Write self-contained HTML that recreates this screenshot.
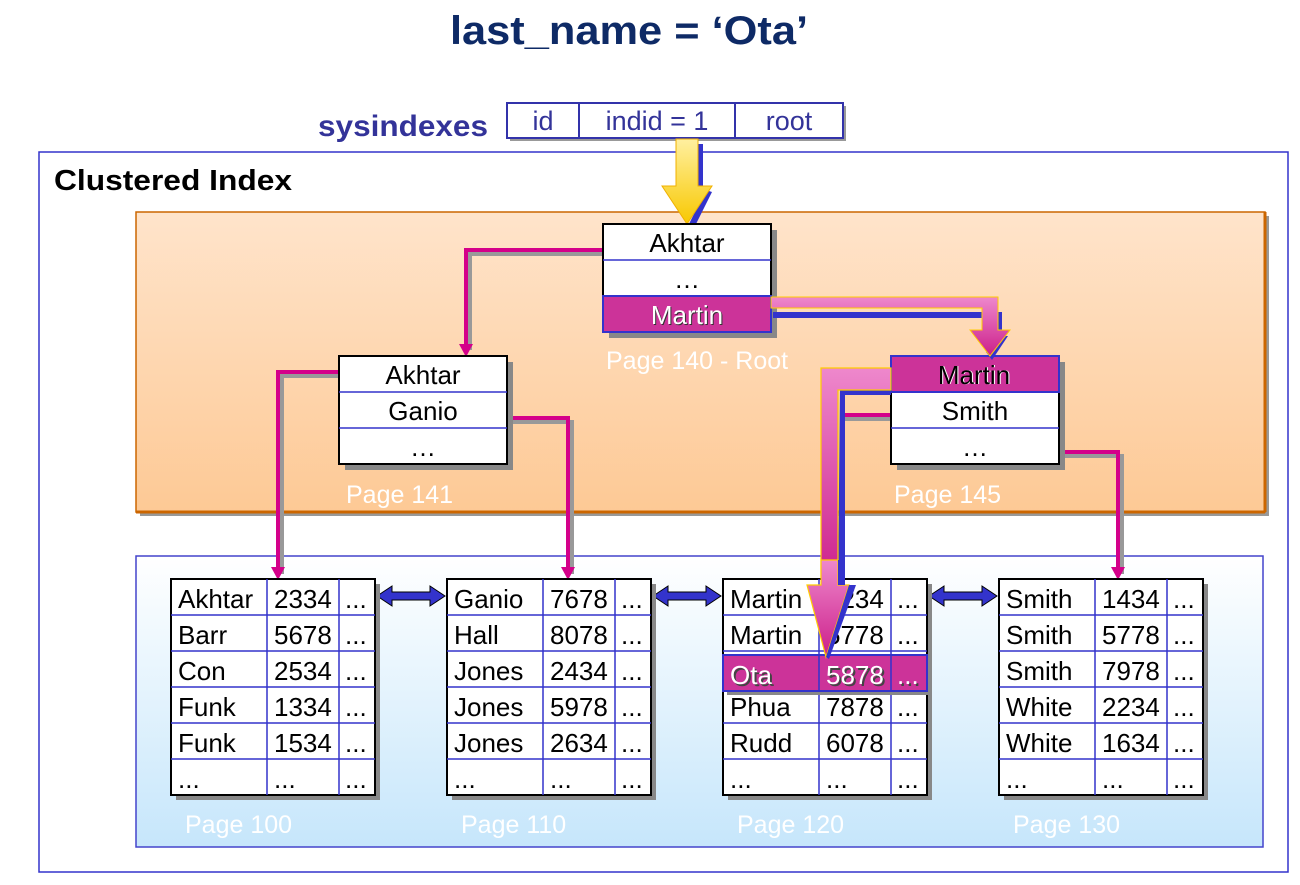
<!DOCTYPE html>
<html><head><meta charset="utf-8"><style>body{margin:0;background:#fff}svg{display:block}text{font-family:"Liberation Sans",Arial,sans-serif}</style></head><body>
<svg width="1300" height="885" viewBox="0 0 1300 885" xmlns="http://www.w3.org/2000/svg">
<defs>
<linearGradient id="og" x1="0" y1="0" x2="0" y2="1"><stop offset="0" stop-color="#ffe4cb"/><stop offset="1" stop-color="#fdc995"/></linearGradient>
<linearGradient id="bg" x1="0" y1="0" x2="0" y2="1"><stop offset="0" stop-color="#ffffff"/><stop offset="1" stop-color="#c6e6fb"/></linearGradient>
<linearGradient id="yg" x1="0" y1="0" x2="0" y2="1"><stop offset="0" stop-color="#fff0a0"/><stop offset="1" stop-color="#f8c800"/></linearGradient>
<linearGradient id="pg" x1="0" y1="0" x2="0" y2="1"><stop offset="0" stop-color="#ee88cc"/><stop offset="1" stop-color="#cc1f8a"/></linearGradient>
</defs>
<text x="629" y="44" text-anchor="middle" font-size="40" font-weight="bold" fill="#0e2a66" textLength="358" lengthAdjust="spacingAndGlyphs">last_name = ‘Ota’</text>
<text x="318" y="136" font-size="30" font-weight="bold" fill="#333399" textLength="170" lengthAdjust="spacingAndGlyphs">sysindexes</text>
<rect x="510" y="106" width="336" height="35" fill="#999"/>
<rect x="507" y="103" width="336" height="35" fill="#fff" stroke="#3333aa" stroke-width="2"/>
<line x1="579" y1="103" x2="579" y2="138" stroke="#3333aa" stroke-width="2"/>
<line x1="735" y1="103" x2="735" y2="138" stroke="#3333aa" stroke-width="2"/>
<g font-size="27" fill="#333399" text-anchor="middle"><text x="543" y="130">id</text><text x="657" y="130">indid = 1</text><text x="789" y="130">root</text></g>
<rect x="39" y="152" width="1249" height="720" fill="none" stroke="#3333cc" stroke-width="1.5"/>
<text x="54" y="190" font-size="29" font-weight="bold" fill="#000" textLength="238" lengthAdjust="spacingAndGlyphs">Clustered Index</text>
<rect x="140" y="216" width="1129" height="300" fill="#999"/>
<rect x="136" y="212" width="1129" height="300" fill="url(#og)" stroke="#cc6600" stroke-width="1.5"/>
<line x1="1265" y1="212" x2="1265" y2="512" stroke="#cc6600" stroke-width="3"/><line x1="136" y1="512" x2="1265" y2="512" stroke="#cc6600" stroke-width="3"/>
<rect x="136" y="556" width="1127" height="291" fill="url(#bg)" stroke="#4444cc" stroke-width="1.5"/>
<rect x="698" y="144" width="5" height="50" fill="#3333cc"/><polygon points="712,192 694,228 688,226 706,190" fill="#3333cc"/>
<polygon points="676,139 698,139 698,186 712,186 687,224 662,186 676,186" fill="url(#yg)" stroke="#f0b000" stroke-width="1"/>
<g fill="none" stroke-width="4">
<polyline points="603,254 470,254 470,350" stroke="#999"/>
<polyline points="603,250 466,250 466,346" stroke="#d4008a"/>
<polyline points="339,376 282,376 282,574" stroke="#999"/>
<polyline points="339,372 278,372 278,570" stroke="#d4008a"/>
<polyline points="507,422 572,422 572,574" stroke="#999"/>
<polyline points="507,418 568,418 568,570" stroke="#d4008a"/>
<polyline points="891,419 840,419" stroke="#999"/>
<polyline points="891,415 840,415" stroke="#d4008a"/>
<polyline points="1059,456 1122,456 1122,574" stroke="#999"/>
<polyline points="1059,452 1118,452 1118,570" stroke="#d4008a"/>
</g>
<g fill="#d4008a"><polygon points="459,344 473,344 466,357"/><polygon points="271,567 285,567 278,580"/><polygon points="561,567 575,567 568,580"/><polygon points="1111,567 1125,567 1118,580"/></g>
<g>
<rect x="609" y="230" width="168" height="108" fill="#888"/>
<rect x="603" y="224" width="168" height="108" fill="#fff" stroke="#000" stroke-width="2"/>
<rect x="603" y="296" width="168" height="36" fill="#cc3399" stroke="#3333cc" stroke-width="2"/>
<line x1="603" y1="260" x2="771" y2="260" stroke="#3333cc" stroke-width="1.5"/>
<text x="687" y="252" font-size="26" text-anchor="middle">Akhtar</text><text x="687" y="288" font-size="26" text-anchor="middle">…</text>
<text x="688" y="325" font-size="26" text-anchor="middle" fill="#333">Martin</text><text x="687" y="324" font-size="26" text-anchor="middle" fill="#fff">Martin</text>
<text x="606" y="369" font-size="25" fill="#fff">Page 140 - Root</text>
<rect x="345" y="362" width="168" height="108" fill="#888"/>
<rect x="339" y="356" width="168" height="108" fill="#fff" stroke="#000" stroke-width="2"/>
<line x1="339" y1="392" x2="507" y2="392" stroke="#3333cc" stroke-width="1.5"/><line x1="339" y1="428" x2="507" y2="428" stroke="#3333cc" stroke-width="1.5"/>
<text x="423" y="384" font-size="26" text-anchor="middle">Akhtar</text><text x="423" y="420" font-size="26" text-anchor="middle">Ganio</text><text x="423" y="456" font-size="26" text-anchor="middle">…</text>
<text x="346" y="503" font-size="25" fill="#fff">Page 141</text>
<rect x="897" y="362" width="168" height="108" fill="#888"/>
<rect x="891" y="356" width="168" height="108" fill="#fff" stroke="#000" stroke-width="2"/>
<rect x="891" y="356" width="168" height="36" fill="#cc3399" stroke="#3333cc" stroke-width="2"/>
<line x1="891" y1="428" x2="1059" y2="428" stroke="#3333cc" stroke-width="1.5"/>
<text x="975" y="384" font-size="26" text-anchor="middle" fill="#fff">Martin</text><text x="974" y="384" font-size="26" text-anchor="middle" fill="#000">Martin</text>
<text x="975" y="420" font-size="26" text-anchor="middle">Smith</text><text x="975" y="456" font-size="26" text-anchor="middle">…</text>
<text x="894" y="503" font-size="25" fill="#fff">Page 145</text>
</g>
<polygon points="773,312 1002,312 1002,336 1008,336 992,360 986,352 996,338 996,318 773,318" fill="#3333cc"/>
<polygon points="771,297 998,297 998,330 1010,330 990,356 970,330 982,330 982,308 771,308" fill="url(#pg)" stroke="#ffcc00" stroke-width="1"/>
<polygon points="840,390 891,390 891,395 845,395 845,585 838,585" fill="#3333cc"/>
<polygon points="821,368 891,368 891,390 838,390 838,585 821,585" fill="url(#pg)" stroke="#ffcc00" stroke-width="1.2"/>
<g fill="#3333cc" stroke="#000" stroke-width="1">
<polygon points="377,596 392,586 392,592 430,592 430,586 445,596 430,606 430,600 392,600 392,606"/>
<polygon points="653,596 668,586 668,592 706,592 706,586 721,596 706,606 706,600 668,600 668,606"/>
<polygon points="929,596 944,586 944,592 982,592 982,586 997,596 982,606 982,600 944,600 944,606"/>
</g>
<g font-size="26">
<g transform="translate(171,579)">
<rect x="5" y="5" width="204" height="216" fill="#888"/><rect width="204" height="216" fill="#fff" stroke="#000" stroke-width="2"/>
<g stroke="#3333cc" stroke-width="1.5"><line x1="0" y1="36" x2="204" y2="36"/><line x1="0" y1="72" x2="204" y2="72"/><line x1="0" y1="108" x2="204" y2="108"/><line x1="0" y1="144" x2="204" y2="144"/><line x1="0" y1="180" x2="204" y2="180"/><line x1="96" y1="0" x2="96" y2="216"/><line x1="168" y1="0" x2="168" y2="216"/></g>
<text x="7" y="29">Akhtar</text><text x="103" y="29">2334</text><text x="174" y="29">...</text>
<text x="7" y="65">Barr</text><text x="103" y="65">5678</text><text x="174" y="65">...</text>
<text x="7" y="101">Con</text><text x="103" y="101">2534</text><text x="174" y="101">...</text>
<text x="7" y="137">Funk</text><text x="103" y="137">1334</text><text x="174" y="137">...</text>
<text x="7" y="173">Funk</text><text x="103" y="173">1534</text><text x="174" y="173">...</text>
<text x="7" y="209">...</text><text x="103" y="209">...</text><text x="174" y="209">...</text>
<text x="14" y="254" font-size="25" fill="#fff">Page 100</text>
</g>
<g transform="translate(447,579)">
<rect x="5" y="5" width="204" height="216" fill="#888"/><rect width="204" height="216" fill="#fff" stroke="#000" stroke-width="2"/>
<g stroke="#3333cc" stroke-width="1.5"><line x1="0" y1="36" x2="204" y2="36"/><line x1="0" y1="72" x2="204" y2="72"/><line x1="0" y1="108" x2="204" y2="108"/><line x1="0" y1="144" x2="204" y2="144"/><line x1="0" y1="180" x2="204" y2="180"/><line x1="96" y1="0" x2="96" y2="216"/><line x1="168" y1="0" x2="168" y2="216"/></g>
<text x="7" y="29">Ganio</text><text x="103" y="29">7678</text><text x="174" y="29">...</text>
<text x="7" y="65">Hall</text><text x="103" y="65">8078</text><text x="174" y="65">...</text>
<text x="7" y="101">Jones</text><text x="103" y="101">2434</text><text x="174" y="101">...</text>
<text x="7" y="137">Jones</text><text x="103" y="137">5978</text><text x="174" y="137">...</text>
<text x="7" y="173">Jones</text><text x="103" y="173">2634</text><text x="174" y="173">...</text>
<text x="7" y="209">...</text><text x="103" y="209">...</text><text x="174" y="209">...</text>
<text x="14" y="254" font-size="25" fill="#fff">Page 110</text>
</g>
<g transform="translate(723,579)">
<rect x="5" y="5" width="204" height="216" fill="#888"/><rect width="204" height="216" fill="#fff" stroke="#000" stroke-width="2"/>
<g stroke="#3333cc" stroke-width="1.5"><line x1="0" y1="36" x2="204" y2="36"/><line x1="0" y1="72" x2="204" y2="72"/><line x1="0" y1="108" x2="204" y2="108"/><line x1="0" y1="144" x2="204" y2="144"/><line x1="0" y1="180" x2="204" y2="180"/><line x1="96" y1="0" x2="96" y2="216"/><line x1="168" y1="0" x2="168" y2="216"/></g>
<text x="7" y="29">Martin</text><text x="103" y="29">1234</text><text x="174" y="29">...</text>
<text x="7" y="65">Martin</text><text x="103" y="65">5778</text><text x="174" y="65">...</text>
<text x="7" y="137">Phua</text><text x="103" y="137">7878</text><text x="174" y="137">...</text>
<text x="7" y="173">Rudd</text><text x="103" y="173">6078</text><text x="174" y="173">...</text>
<text x="7" y="209">...</text><text x="103" y="209">...</text><text x="174" y="209">...</text>
<text x="14" y="254" font-size="25" fill="#fff">Page 120</text>
</g>
<g transform="translate(999,579)">
<rect x="5" y="5" width="204" height="216" fill="#888"/><rect width="204" height="216" fill="#fff" stroke="#000" stroke-width="2"/>
<g stroke="#3333cc" stroke-width="1.5"><line x1="0" y1="36" x2="204" y2="36"/><line x1="0" y1="72" x2="204" y2="72"/><line x1="0" y1="108" x2="204" y2="108"/><line x1="0" y1="144" x2="204" y2="144"/><line x1="0" y1="180" x2="204" y2="180"/><line x1="96" y1="0" x2="96" y2="216"/><line x1="168" y1="0" x2="168" y2="216"/></g>
<text x="7" y="29">Smith</text><text x="103" y="29">1434</text><text x="174" y="29">...</text>
<text x="7" y="65">Smith</text><text x="103" y="65">5778</text><text x="174" y="65">...</text>
<text x="7" y="101">Smith</text><text x="103" y="101">7978</text><text x="174" y="101">...</text>
<text x="7" y="137">White</text><text x="103" y="137">2234</text><text x="174" y="137">...</text>
<text x="7" y="173">White</text><text x="103" y="173">1634</text><text x="174" y="173">...</text>
<text x="7" y="209">...</text><text x="103" y="209">...</text><text x="174" y="209">...</text>
<text x="14" y="254" font-size="25" fill="#fff">Page 130</text>
</g>
<rect x="727" y="659" width="204" height="36" fill="#888"/>
<rect x="723" y="655" width="204" height="36" fill="#cc3399" stroke="#3333cc" stroke-width="2"/>
<line x1="819" y1="655" x2="819" y2="691" stroke="#3333cc" stroke-width="1.5"/><line x1="891" y1="655" x2="891" y2="691" stroke="#3333cc" stroke-width="1.5"/>
<g fill="#444"><text x="732" y="686">Ota</text><text x="828" y="686">5878</text><text x="899" y="686">...</text></g>
<g fill="#fff"><text x="730" y="684">Ota</text><text x="826" y="684">5878</text><text x="897" y="684">...</text></g>
</g>
<polygon points="838,560 838,585 849,585 826,657 807,585 821,585 821,560" fill="url(#pg)" stroke="#ffcc00" stroke-width="1.2"/>
<polygon points="838,560 845,560 845,585 838,585" fill="#3333cc"/>
<polygon points="849,585 856,585 829,659 826,657" fill="#3333cc"/>
</svg>
</body></html>
